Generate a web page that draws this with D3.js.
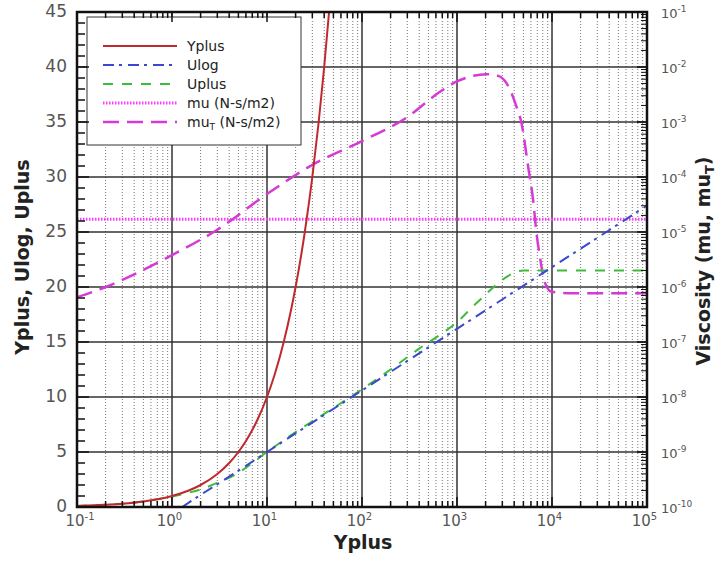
<!DOCTYPE html>
<html>
<head>
<meta charset="utf-8">
<script src="https://cdn.jsdelivr.net/npm/d3@7"></script>
<style>
  body { margin: 0; background: #fff; }
  svg { font-family: "DejaVu Sans", sans-serif; }
</style>
</head>
<body>
<svg id="chart" width="717" height="562"></svg>
<script>
// values
const yplusX   = [0.1, 0.15, 0.2, 0.3, 0.5, 0.7, 1, 1.5, 2, 3, 4, 5, 6, 7, 8, 10, 12, 15, 18, 20, 25, 30, 35, 40, 45, 50];
const yplusVal = [0.1, 0.15, 0.2, 0.3, 0.5, 0.7, 1, 1.5, 2, 3, 4, 5, 6, 7, 8, 10, 12, 15, 18, 20, 25, 30, 35, 40, 45, 50];

const ulogX   = [1.28, 2, 5, 10, 100, 1000, 10000, 100000];
const ulogVal = [0, 1.1, 3.3, 5.0, 10.6, 16.2, 21.8, 27.4];

const uplusX   = [0.1, 0.2, 0.3, 0.5, 0.7, 1, 1.5, 2, 3, 5, 7, 10, 20, 50, 100, 200, 400, 700, 1000, 1500, 2000, 2500, 3300, 4000, 5000, 10000, 100000];
const uplusVal = [0.1, 0.2, 0.3, 0.5, 0.7, 0.95, 1.3, 1.6, 2.2, 3.1, 4.0, 5.0, 6.8, 9.0, 10.7, 12.5, 14.4, 15.8, 16.8, 18.3, 19.3, 20.1, 20.9, 21.3, 21.5, 21.5, 21.5];

const muX   = [0.1, 100000];
const muVal = [1.7e-5, 1.7e-5];

const muTX   = [0.1, 0.2, 0.5, 1, 3, 10, 30, 100, 300, 656, 984, 1475, 2042, 2706, 3318, 4230, 4775, 5607, 6330, 6870, 7447, 8410, 9890, 15000, 100000];
const muTVal = [6.5e-7, 1.0e-6, 2.05e-6, 3.8e-6, 1.1e-5, 4.9e-5, 1.66e-4, 4.5e-4, 1.23e-3, 3.5e-3, 5.4e-3, 6.9e-3, 7.4e-3, 6.9e-3, 5.1e-3, 1.9e-3, 9.5e-4, 1.55e-4, 3.8e-5, 9.5e-6, 3.6e-6, 1.2e-6, 8.2e-7, 7.7e-7, 7.7e-7];

const xDecades = [-1, 0, 1, 2, 3, 4, 5];
const yTicks = [0, 5, 10, 15, 20, 25, 30, 35, 40, 45];
const y2Decades = [-10, -9, -8, -7, -6, -5, -4, -3, -2, -1];

const legendNames = ['Yplus', 'Ulog', 'Uplus', 'mu  (N-s/m2)', 'muT'];

const svg = d3.select('#chart');
const margin = { top: 12, right: 70, bottom: 55, left: 77 };
const width = +svg.attr('width');
const height = +svg.attr('height');
const pLeft = margin.left, pRight = width - margin.right, pTop = margin.top, pBottom = height - margin.bottom;

const x = d3.scaleLog().domain([0.1, 1e5]).range([pLeft, pRight]);
const y = d3.scaleLinear().domain([0, 45]).range([pBottom, pTop]);
const y2 = d3.scaleLog().domain([1e-10, 1e-1]).range([pBottom, pTop]);

svg.append('defs').append('clipPath').attr('id', 'clip')
  .append('rect').attr('x', pLeft).attr('y', pTop).attr('width', pRight - pLeft).attr('height', pBottom - pTop);

// grid
const grid = svg.append('g');
const minorX = [];
xDecades.slice(0, -1).forEach(e => { for (let k = 2; k <= 9; k++) minorX.push(k * Math.pow(10, e)); });
grid.selectAll('.minorx').data(minorX).enter().append('line')
  .attr('x1', d => x(d)).attr('x2', d => x(d)).attr('y1', pTop).attr('y2', pBottom)
  .attr('stroke', '#777').attr('stroke-width', 1).attr('stroke-dasharray', '1,2');
grid.selectAll('.majorx').data(xDecades.slice(1, -1)).enter().append('line')
  .attr('x1', d => x(Math.pow(10, d))).attr('x2', d => x(Math.pow(10, d))).attr('y1', pTop).attr('y2', pBottom)
  .attr('stroke', '#333').attr('stroke-width', 1.5);
grid.selectAll('.majory').data(yTicks.slice(1, -1)).enter().append('line')
  .attr('x1', pLeft).attr('x2', pRight).attr('y1', d => y(d)).attr('y2', d => y(d))
  .attr('stroke', '#333').attr('stroke-width', 1.5);

// curves
const plot = svg.append('g').attr('clip-path', 'url(#clip)');
const lineL = d3.line().x(d => x(d[0])).y(d => y(d[1])).curve(d3.curveMonotoneX);
const lineR = d3.line().x(d => x(d[0])).y(d => y2(d[1])).curve(d3.curveMonotoneX);

const series = [
  { pts: d3.zip(muX, muVal), gen: lineR, color: '#ff3cff', w: 3, dash: '1.5,1.5' },
  { pts: d3.zip(muTX, muTVal), gen: lineR, color: '#d63ad6', w: 2.5, dash: '16,8' },
  { pts: d3.zip(uplusX, uplusVal), gen: lineL, color: '#3cbb3c', w: 2, dash: '10,9' },
  { pts: d3.zip(ulogX, ulogVal), gen: lineL, color: '#3a48cc', w: 2, dash: '11,5,3,6' },
  { pts: d3.zip(yplusX, yplusVal), gen: lineL, color: '#c0282d', w: 2, dash: null }
];
series.forEach(s => {
  plot.append('path').attr('d', s.gen(s.pts))
    .attr('fill', 'none').attr('stroke', s.color).attr('stroke-width', s.w)
    .attr('stroke-dasharray', s.dash);
});

// legend
const legStyle = [series[4], series[3], series[2], series[0], series[1]];
const leg = svg.append('g');
leg.append('rect').attr('x', 87).attr('y', 17).attr('width', 214).attr('height', 128)
  .attr('fill', '#fff').attr('stroke', '#333').attr('stroke-width', 1);
legendNames.forEach((name, i) => {
  const ly = 46 + i * 19;
  const s = legStyle[i];
  leg.append('line').attr('x1', 103).attr('x2', 177).attr('y1', ly).attr('y2', ly)
    .attr('stroke', s.color).attr('stroke-width', s.w).attr('stroke-dasharray', s.dash);
  const t = leg.append('text').attr('x', 187).attr('y', ly + 5).attr('font-size', 14).attr('fill', '#222');
  if (name === 'muT') {
    t.append('tspan').text('mu');
    t.append('tspan').attr('font-size', 9).attr('dy', 3).text('T');
    t.append('tspan').attr('dy', -3).text(' (N-s/m2)');
  } else {
    t.text(name);
  }
});

// frame and ticks
const axes = svg.append('g').attr('stroke', '#111');
const isDecade = v => Math.abs(Math.log10(v) - Math.round(Math.log10(v))) < 1e-9;
minorX.concat(xDecades.map(e => Math.pow(10, e))).forEach(v => {
  const len = isDecade(v) ? 10 : 6;
  axes.append('line').attr('x1', x(v)).attr('x2', x(v)).attr('y1', pBottom).attr('y2', pBottom - len).attr('stroke-width', 1.5);
  axes.append('line').attr('x1', x(v)).attr('x2', x(v)).attr('y1', pTop).attr('y2', pTop + len).attr('stroke-width', 1.5);
});
d3.range(0, 46).forEach(v => {
  const len = v % 5 === 0 ? 12 : 8;
  axes.append('line').attr('x1', pLeft).attr('x2', pLeft + len).attr('y1', y(v)).attr('y2', y(v)).attr('stroke-width', 1.5);
});
y2Decades.forEach(e => {
  axes.append('line').attr('x1', pRight).attr('x2', pRight - 10).attr('y1', y2(Math.pow(10, e))).attr('y2', y2(Math.pow(10, e))).attr('stroke-width', 1.5);
  if (e < -1) for (let k = 2; k <= 9; k++) {
    const v = k * Math.pow(10, e);
    axes.append('line').attr('x1', pRight).attr('x2', pRight - 6).attr('y1', y2(v)).attr('y2', y2(v)).attr('stroke-width', 1);
  }
});
axes.append('rect').attr('x', pLeft).attr('y', pTop).attr('width', pRight - pLeft).attr('height', pBottom - pTop)
  .attr('fill', 'none').attr('stroke-width', 2.5);

// tick labels
const labels = svg.append('g').attr('fill', '#555');
yTicks.forEach(v => {
  labels.append('text').attr('x', 67).attr('y', y(v)).attr('dy', '0.3em')
    .attr('text-anchor', 'end').attr('font-size', 17).text(v);
});
xDecades.forEach(e => {
  // the first label is nudged right so it clears the "0" of the left axis
  const t = labels.append('text').attr('x', x(Math.pow(10, e)) + (e === -1 ? 3 : -2.5)).attr('y', 526)
    .attr('text-anchor', 'middle').attr('font-size', 15);
  t.append('tspan').text('10');
  t.append('tspan').attr('font-size', 10).attr('dy', -6).text(e);
});
y2Decades.forEach(e => {
  const t = labels.append('text').attr('x', 661).attr('y', y2(Math.pow(10, e)) + 6).attr('font-size', 13);
  t.append('tspan').text('10');
  t.append('tspan').attr('font-size', 9).attr('dy', -6).text(e);
});

// axis titles
svg.append('text').attr('x', 363).attr('y', 549).attr('text-anchor', 'middle')
  .attr('font-size', 19).attr('font-weight', 'bold').attr('fill', '#222').text('Yplus');
svg.append('text').attr('transform', 'translate(29,257) rotate(-90)').attr('text-anchor', 'middle')
  .attr('font-size', 19).attr('font-weight', 'bold').attr('fill', '#222').text('Yplus, Ulog, Uplus');
const rt = svg.append('text').attr('transform', 'translate(710,261) rotate(-90)').attr('text-anchor', 'middle')
  .attr('font-size', 19).attr('font-weight', 'bold').attr('fill', '#222');
rt.append('tspan').text('Viscosity (mu, mu');
rt.append('tspan').attr('font-size', 13).attr('dy', 4).text('T');
rt.append('tspan').attr('dy', -4).text(')');
</script>
</body>
</html>
